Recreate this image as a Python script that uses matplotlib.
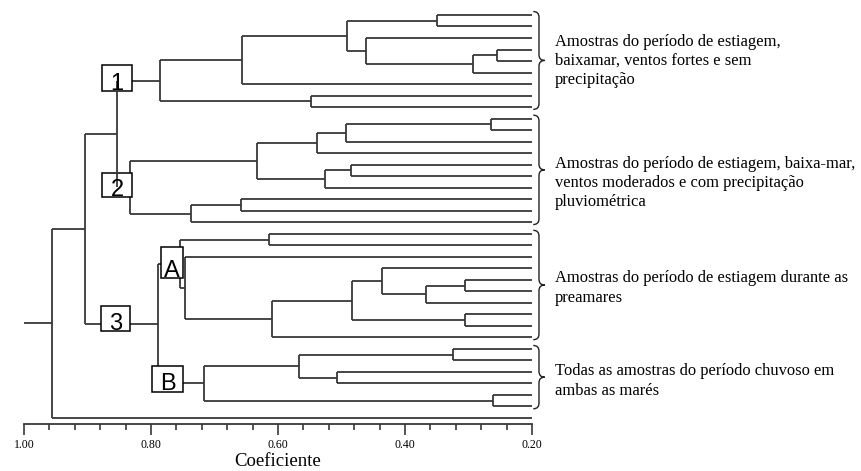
import numpy as np
import matplotlib.pyplot as plt
from matplotlib.patches import Rectangle, PathPatch
from matplotlib.path import Path

# leaves are numbered 0..35 from top to bottom; internal nodes get ids from 36 on
n_leaves = 36
leaf_level = 0.20

# (child, child, coefficient) in merge order
links = [
    (0, 1, 0.350), (3, 4, 0.255), (37, 5, 0.293), (2, 38, 0.461),
    (36, 39, 0.491), (40, 6, 0.657), (7, 8, 0.548), (41, 42, 0.786),
    (9, 10, 0.265), (44, 11, 0.493), (45, 12, 0.539), (13, 14, 0.485),
    (47, 15, 0.526), (46, 48, 0.633), (16, 17, 0.658), (50, 18, 0.737),
    (49, 51, 0.833), (43, 52, 0.854),
    (19, 20, 0.614), (23, 24, 0.305), (55, 25, 0.367), (22, 56, 0.436),
    (26, 27, 0.305), (57, 58, 0.483), (59, 28, 0.609), (21, 60, 0.746),
    (54, 61, 0.754),
    (29, 30, 0.324), (31, 32, 0.507), (63, 64, 0.567), (33, 34, 0.261),
    (65, 66, 0.717), (62, 67, 0.789), (53, 68, 0.904), (69, 35, 0.956),
]

tick_values = [1.00, 0.80, 0.60, 0.40, 0.20]
tick_labels = ["1.00", "0.80", "0.60", "0.40", "0.20"]

group_first = [0, 9, 19, 29]
group_last = [8, 18, 28, 34]
group_text_y = [4.0, 14.6, 23.7, 31.8]
group_texts = [
    "Amostras do período de estiagem,\nbaixamar, ventos fortes e sem\nprecipitação",
    "Amostras do período de estiagem, baixa-mar,\nventos moderados e com precipitação\npluviométrica",
    "Amostras do período de estiagem durante as\npreamares",
    "Todas as amostras do período chuvoso em\nambas as marés",
]

box_labels = ["1", "2", "3", "A", "B"]
box_x = [0.8535, 0.8535, 0.856, 0.767, 0.774]
box_y = [5.47, 14.76, 26.36, 21.5, 31.6]
box_w = [0.047, 0.047, 0.046, 0.035, 0.049]
box_h = [2.26, 2.08, 2.17, 2.69, 2.26]

line_color = "#383838"
serif = "Liberation Serif"

# positions of every node
ypos = {i: float(i) for i in range(n_leaves)}
hgt = {i: leaf_level for i in range(n_leaves)}
for k, (a, b, h) in enumerate(links):
    nid = n_leaves + k
    ypos[nid] = (ypos[a] + ypos[b]) / 2
    hgt[nid] = h

fig = plt.figure(figsize=(8.62, 4.71), dpi=100)
ax = fig.add_axes([24 / 862, 47 / 471, 508 / 862, 424 / 471])

for k, (a, b, h) in enumerate(links):
    nid = n_leaves + k
    z = 4 if nid == 53 else 2
    ax.plot([h, h], [ypos[a], ypos[b]], color=line_color, lw=1.3, zorder=z,
            solid_capstyle="butt")
    for c in (a, b):
        ax.plot([h, hgt[c]], [ypos[c], ypos[c]], color=line_color, lw=1.3,
                zorder=2, solid_capstyle="butt")

root = n_leaves + len(links) - 1
ax.plot([1.0, hgt[root]], [ypos[root], ypos[root]], color=line_color, lw=1.3)

# labelled boxes on the main clusters
for lab, bx, by, bw, bh in zip(box_labels, box_x, box_y, box_w, box_h):
    ax.add_patch(Rectangle((bx - bw / 2, by - bh / 2), bw, bh, facecolor="white",
                           edgecolor="black", lw=1.1, zorder=3))
    ax.text(bx, by + bh / 2 - 0.12, lab, ha="center", va="baseline", fontsize=17,
            family="Liberation Sans", zorder=5)

# curly braces and group descriptions
xl, xm, xt = 0.198, 0.189, 0.180
r = 0.5
for g0, g1, ty, txt in zip(group_first, group_last, group_text_y, group_texts):
    y0, y1 = g0 - 0.3, g1 + 0.2
    ym = (y0 + y1) / 2
    verts = [(xl, y0), (xm, y0), (xm, y0 + r), (xm, ym - r), (xm, ym), (xt, ym),
             (xm, ym), (xm, ym + r), (xm, y1 - r), (xm, y1), (xl, y1)]
    codes = [Path.MOVETO, Path.CURVE3, Path.CURVE3, Path.LINETO, Path.CURVE3, Path.CURVE3,
             Path.CURVE3, Path.CURVE3, Path.LINETO, Path.CURVE3, Path.CURVE3]
    ax.add_patch(PathPatch(Path(verts, codes), fill=False, edgecolor="#222222",
                           lw=1.0, clip_on=False))
    ax.text(0.164, ty, txt, ha="left", va="center", fontsize=11.9, family=serif,
            clip_on=False, linespacing=1.28)

ax.set_xlim(1.0, 0.2)
ax.set_ylim(35.52, -1.30)
for s in ["top", "right", "left"]:
    ax.spines[s].set_visible(False)
ax.spines["bottom"].set_color(line_color)
ax.spines["bottom"].set_linewidth(1.3)
ax.set_yticks([])
ax.set_xticks(tick_values)
ax.set_xticklabels(tick_labels, family=serif, fontsize=8.5)
ax.set_xticks(np.arange(0.24, 0.99, 0.04), minor=True)
ax.tick_params(axis="x", which="major", length=8, width=1.2, color=line_color, pad=2.5)
ax.tick_params(axis="x", which="minor", length=4.5, width=1.2, color=line_color)
ax.set_xlabel("Coeficiente", family=serif, fontsize=13.5, labelpad=2)

fig.savefig("out.png", dpi=100)
